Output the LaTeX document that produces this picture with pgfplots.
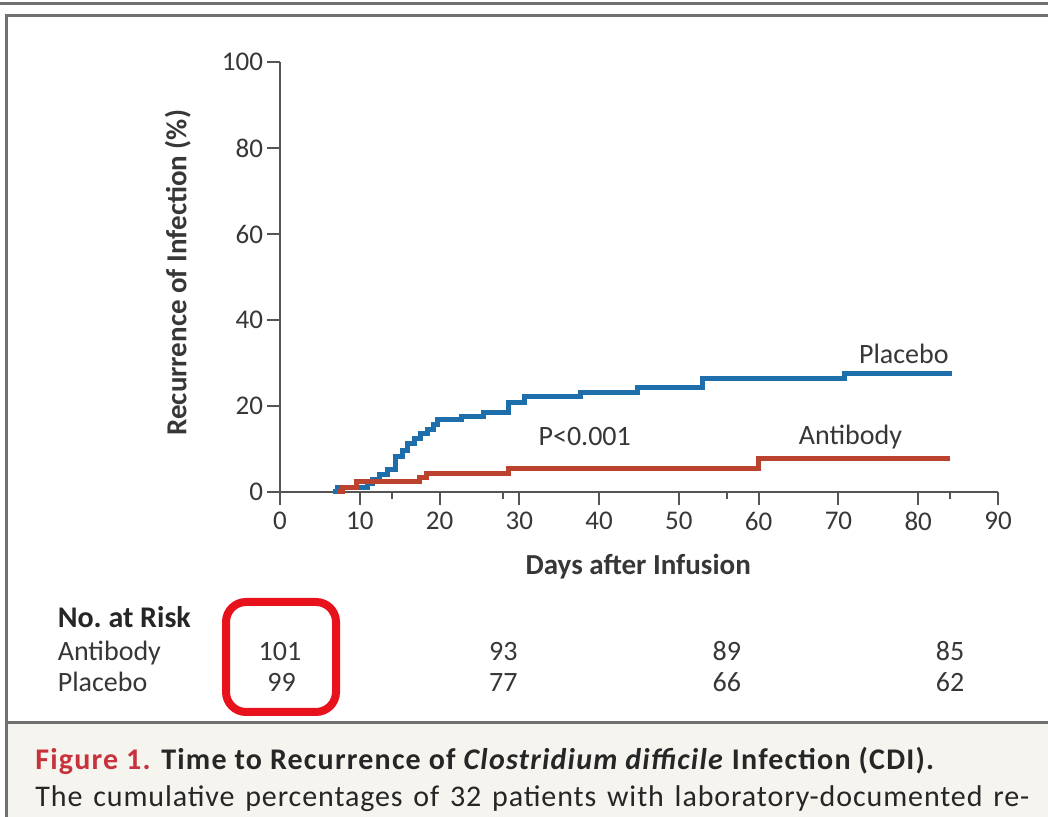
\documentclass[border=0pt]{standalone}
\usepackage{pgfplots}
\pgfplotsset{compat=1.18}
\usepackage{fontspec}
\setmainfont{Carlito}
\newfontfamily\capwide[LetterSpace=4.0]{Carlito}
\newfontfamily\capwider[LetterSpace=3.0]{Carlito}

\definecolor{plcblue}{RGB}{31,110,172}
\definecolor{abred}{RGB}{188,66,48}
\definecolor{framegray}{RGB}{112,112,112}
\definecolor{axisgray}{RGB}{85,85,85}
\definecolor{txtgray}{RGB}{55,55,55}
\definecolor{capbg}{RGB}{246,244,239}
\definecolor{figred}{RGB}{200,50,60}
\definecolor{boxred}{RGB}{232,18,28}

\newcommand{\ticksz}{\fontsize{13.5}{15}\selectfont}
\newcommand{\lblsz}{\fontsize{14}{16}\selectfont}

\begin{document}
\begin{tikzpicture}
\useasboundingbox (0,0) rectangle (524pt,408.5pt);
\begin{scope}[x=0.5pt,y=0.5pt]
\fill[white] (0,0) rectangle (1048,817);
% caption panel and frame
\fill[capbg] (7,0) rectangle (1048,94);
\draw[framegray, line width=1.5pt] (0,813) -- (1048,813);
\draw[framegray, line width=1.5pt] (6,-2) -- (6,801) -- (1050,801);
\draw[framegray, line width=1.5pt] (6,94) -- (1050,94);
\end{scope}

\begin{axis}[
  at={(140pt,162.5pt)}, anchor=south west,
  scale only axis, width=359pt, height=215pt,
  xmin=0, xmax=90, ymin=0, ymax=100,
  axis x line*=bottom, axis y line*=left,
  axis line style={axisgray, line width=1pt},
  xtick={0,10,...,90}, minor xtick={14,28,56,84},
  ytick={0,20,...,100},
  tick align=outside,
  major tick length=6.5pt, minor tick length=3.5pt,
  every tick/.style={axisgray, line width=1pt},
  tick label style={font=\ticksz, text=txtgray},
  yticklabel style={xshift=1.5pt},
  /pgf/number format/assume math mode=true,
  clip=false,
]
% placebo
\addplot[const plot, plcblue, line width=2.5pt] coordinates {
 (6.6,0) (7.2,1.0) (11.0,2.0) (11.6,3.0) (12.5,4.1) (13.5,5.2)
 (14.5,8.3) (15.3,9.6) (16.0,11.2) (16.8,12.5) (17.6,13.6) (18.5,14.5)
 (19.3,15.8) (19.7,16.8) (22.7,17.6) (25.5,18.6) (28.7,20.8) (30.7,22.2)
 (37.7,23.2) (44.8,24.3) (52.9,26.3) (70.8,27.6) (84.2,27.6)
};
% antibody
\addplot[const plot, abred, line width=2.5pt] coordinates {
 (7.2,0) (7.8,1.0) (9.6,2.4) (17.5,3.4) (18.4,4.4) (28.6,5.5)
 (60.0,7.7) (84.0,7.7)
};

\node[font=\lblsz, text=txtgray] at (axis cs:38.2,13) {P<0.001};
\node[font=\lblsz, text=txtgray] at (axis cs:78.2,32.1) {Placebo};
\node[font=\lblsz, text=txtgray] at (axis cs:71.5,12.8) {Antibody};

\node[font=\bfseries\fontsize{14.5}{16}\selectfont, text=txtgray, rotate=90]
  at (axis cs:-12.8,51) {Recurrence of Infection (\%)};
\node[font=\bfseries\fontsize{14.5}{16}\selectfont, text=txtgray]
  at (axis cs:44.9,-17.4) {Days after Infusion};

% number at risk
\node[font=\bfseries\fontsize{15}{17}\selectfont, text=black!85, anchor=base west, inner sep=0pt]
  at (axis cs:-27.9,-31.6) {No.\ at Risk};
\node[font=\lblsz, text=txtgray, anchor=base west, inner sep=0pt] at (axis cs:-27.9,-39.3) {Antibody};
\node[font=\lblsz, text=txtgray, anchor=base west, inner sep=0pt] at (axis cs:-27.9,-46.3) {Placebo};
\node[font=\lblsz, text=txtgray, anchor=base] at (axis cs:0,-39.3) {101};
\node[font=\lblsz, text=txtgray, anchor=base] at (axis cs:0.2,-46.3) {99};
\node[font=\lblsz, text=txtgray, anchor=base] at (axis cs:28,-39.3) {93};
\node[font=\lblsz, text=txtgray, anchor=base] at (axis cs:28,-46.3) {77};
\node[font=\lblsz, text=txtgray, anchor=base] at (axis cs:56,-39.3) {89};
\node[font=\lblsz, text=txtgray, anchor=base] at (axis cs:56,-46.3) {66};
\node[font=\lblsz, text=txtgray, anchor=base] at (axis cs:84,-39.3) {85};
\node[font=\lblsz, text=txtgray, anchor=base] at (axis cs:84,-46.3) {62};
\end{axis}

\begin{scope}[x=0.5pt,y=0.5pt]
% highlight around the day-0 counts
\draw[boxred, line width=4pt, rounded corners=10pt] (226,105) rectangle (336,215);
% caption, clipped at the lower edge
\clip (0,0) rectangle (1048,817);
\node[anchor=base west, inner sep=0pt, font=\capwide\fontsize{15}{17}\selectfont, text=black!85]
  at (35,47) {\textbf{\textcolor{figred}{Figure 1.} Time to Recurrence of \textit{Clostridium difficile} Infection (CDI).}};
\node[anchor=base west, inner sep=0pt, font=\capwider\fontsize{15}{17}\selectfont, text=black!85]
  at (35,10) {\makebox[497pt][s]{The cumulative percentages of 32 patients with laboratory-documented re-}};
\end{scope}
\end{tikzpicture}
\end{document}
